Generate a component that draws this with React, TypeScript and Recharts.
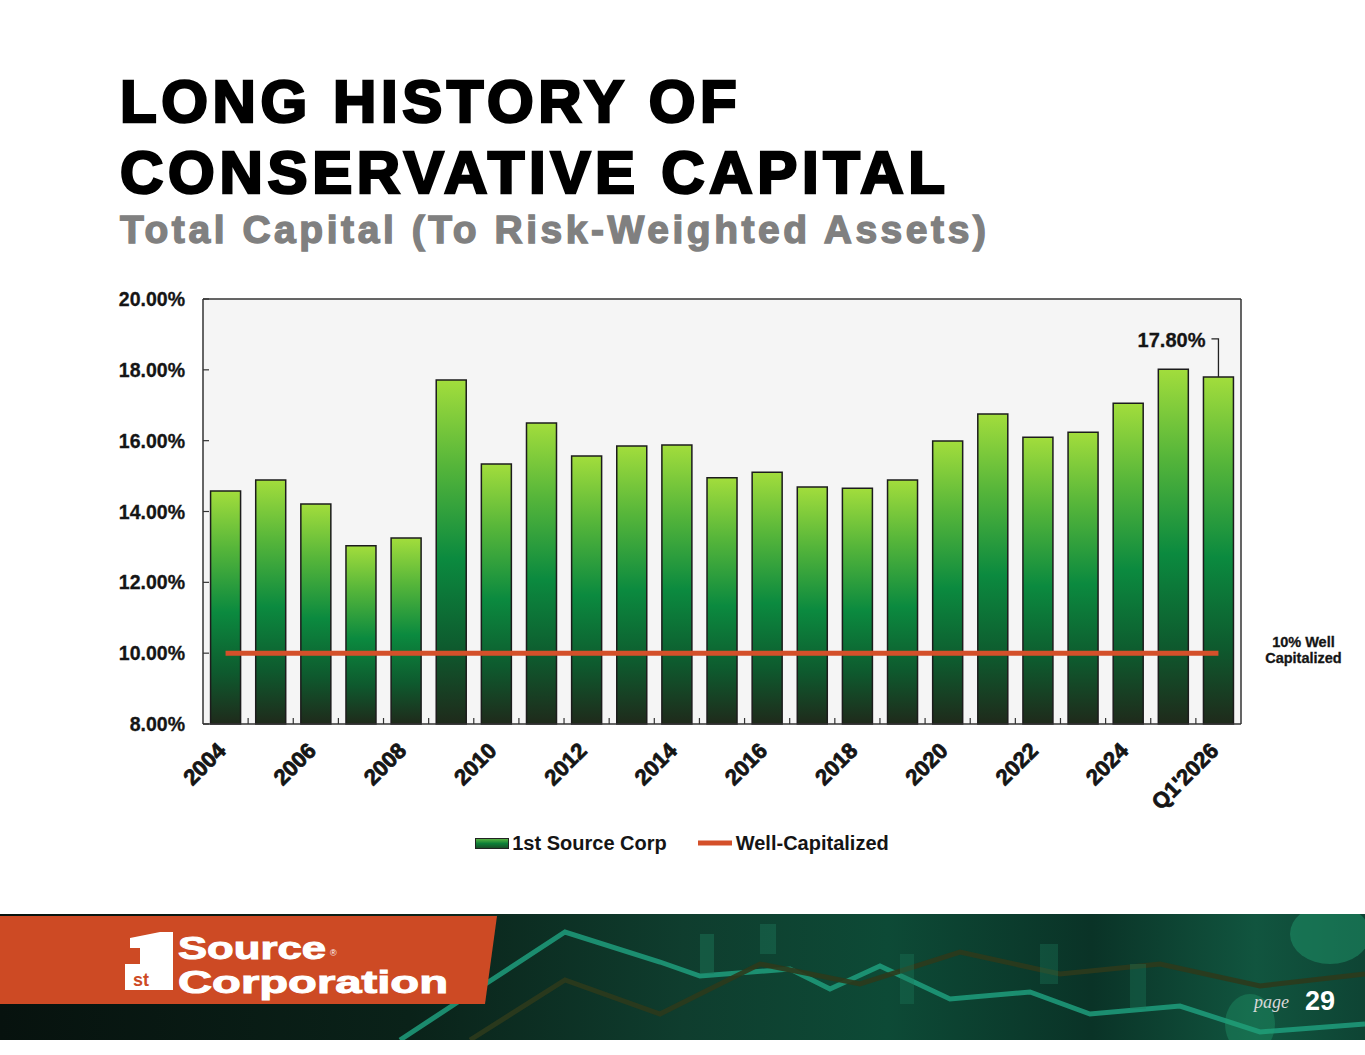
import React from 'react';
import {
  ComposedChart,
  Bar,
  Line,
  XAxis,
  YAxis,
  CartesianGrid,
  Legend,
  LabelList,
} from 'recharts';

const categories = [
  '2004', '2005', '2006', '2007', '2008', '2009', '2010', '2011', '2012', '2013', '2014',
  '2015', '2016', '2017', '2018', '2019', '2020', '2021', '2022', '2023', '2024', '2025', "Q1'2026",
];
const capitalRatios = [
  14.58, 14.89, 14.21, 13.03, 13.25, 17.71, 15.34, 16.5, 15.57, 15.85, 15.88,
  14.95, 15.11, 14.69, 14.66, 14.89, 15.99, 16.75, 16.1, 16.24, 17.06, 18.02, 17.8,
];
const wellCapitalized = [
  10, 10, 10, 10, 10, 10, 10, 10, 10, 10, 10,
  10, 10, 10, 10, 10, 10, 10, 10, 10, 10, 10, 10,
];
const yTicks = [8, 10, 12, 14, 16, 18, 20];
const yDomain: [number, number] = [8, 20];

const data = categories.map((c, i) => ({
  year: c,
  idx: i,
  corp: capitalRatios[i],
  well: wellCapitalized[i],
}));
const edgeDomain: [number, number] = [-0.5, categories.length - 0.5];
const edgeTicks = categories.slice(1).map((_, i) => i + 0.5);

const FONT = '"Liberation Sans", Arial, Helvetica, sans-serif';
const INK = '#151515';
const ORANGE = '#D4502A';

const Empty = () => <g />;

const XTick = (props: any) => {
  const { x, y, payload } = props;
  const ax = x + 1.5;
  return (
    <text
      x={ax}
      y={y}
      textAnchor="end"
      transform={`rotate(-45 ${ax} ${y})`}
      fontFamily={FONT}
      fontWeight={700}
      fontSize={22}
      fill={INK}
      stroke={INK}
      strokeWidth={0.8}
    >
      {payload.value}
    </text>
  );
};

const YTick = (props: any) => {
  const { x, y, payload } = props;
  return (
    <text
      x={x}
      y={y}
      dy={7}
      textAnchor="end"
      fontFamily={FONT}
      fontWeight={700}
      fontSize={19.5}
      fill={INK}
      stroke={INK}
      strokeWidth={0.3}
    >
      {payload.value.toFixed(2)}%
    </text>
  );
};

const BarNote = (props: any) => {
  const { x, y, width, value, index } = props;
  if (index !== capitalRatios.length - 1) return null;
  const cx = x + width / 2;
  return (
    <g>
      <polyline
        points={`${cx},${y} ${cx},${y - 38} ${cx - 7},${y - 38}`}
        fill="none"
        stroke="#222"
        strokeWidth={1.3}
      />
      <text
        x={cx - 13}
        y={y - 30}
        textAnchor="end"
        fontFamily={FONT}
        fontWeight={700}
        fontSize={20}
        fill={INK}
        stroke={INK}
        strokeWidth={0.3}
      >
        {Number(value).toFixed(2)}%
      </text>
    </g>
  );
};

const LineNote = (props: any) => {
  const { x, y, index } = props;
  if (index !== wellCapitalized.length - 1) return null;
  return (
    <text
      fontFamily={FONT}
      fontWeight={700}
      fontSize={14.5}
      fill={INK}
      stroke={INK}
      strokeWidth={0.3}
      textAnchor="middle"
    >
      <tspan x={x + 85} y={y - 6}>10% Well</tspan>
      <tspan x={x + 85} y={y + 10}>Capitalized</tspan>
    </text>
  );
};

const LegendContent = () => (
  <div
    style={{
      display: 'flex',
      justifyContent: 'center',
      alignItems: 'center',
      height: 24,
      fontFamily: FONT,
      fontWeight: 700,
      fontSize: 20,
      color: INK,
    }}
  >
    <svg width={34} height={11} style={{ display: 'block' }}>
      <defs>
        <linearGradient id="legendGrad" x1="0" y1="0" x2="0" y2="1">
          <stop offset="0%" stopColor="#5fb843" />
          <stop offset="50%" stopColor="#0d7f38" />
          <stop offset="100%" stopColor="#1b4a25" />
        </linearGradient>
      </defs>
      <rect x={0.5} y={0.5} width={33} height={10} fill="url(#legendGrad)" stroke="#222" strokeWidth={1} />
    </svg>
    <span style={{ marginLeft: 3 }}>1st Source Corp</span>
    <svg width={36} height={8} style={{ display: 'block', marginLeft: 30 }}>
      <line x1={1} y1={4} x2={35} y2={4} stroke={ORANGE} strokeWidth={5} />
    </svg>
    <span style={{ marginLeft: 3 }}>Well-Capitalized</span>
  </div>
);

const Footer = () => (
  <div
    style={{
      position: 'absolute',
      left: 0,
      top: 914,
      width: 1365,
      height: 126,
      overflow: 'hidden',
      background:
        'linear-gradient(90deg, #07120e 0%, #0a2219 30%, #0f3d2e 50%, #0d4a36 65%, #0a3327 80%, #11553f 92%, #0e4434 100%)',
    }}
  >
    <svg width={1365} height={126} style={{ position: 'absolute', left: 0, top: 0 }}>
      <polyline
        points="400,126 470,80 565,18 660,48 700,62 790,55 830,75 880,52 950,85 1030,78 1090,100 1180,92 1260,118 1365,110"
        fill="none"
        stroke="#1f9e7c"
        strokeWidth={5}
        opacity={0.85}
      />
      <polyline
        points="470,126 565,66 660,100 760,50 860,70 960,38 1060,60 1160,50 1260,72 1365,60"
        fill="none"
        stroke="#2c3a1c"
        strokeWidth={5}
        opacity={0.9}
      />
      <rect x={700} y={20} width={14} height={40} fill="#1d7a5c" opacity={0.45} />
      <rect x={760} y={10} width={16} height={30} fill="#1d7a5c" opacity={0.4} />
      <rect x={900} y={40} width={14} height={50} fill="#1d7a5c" opacity={0.35} />
      <rect x={1040} y={30} width={18} height={40} fill="#1d7a5c" opacity={0.35} />
      <rect x={1130} y={50} width={16} height={45} fill="#1d7a5c" opacity={0.35} />
      <ellipse cx={1330} cy={20} rx={40} ry={30} fill="#22a070" opacity={0.45} />
      <ellipse cx={1250} cy={110} rx={25} ry={30} fill="#22a070" opacity={0.35} />
    </svg>
    <svg width={500} height={92} style={{ position: 'absolute', left: 0, top: 2 }}>
      <polygon points="0,0 497,0 485,88 0,88" fill="#CD4A24" />
      <polygon points="130,22 160,16 173,16 173,74 125,74 125,48 140,48 140,32 130,32" fill="#ffffff" />
      <text x={133} y={70} fontFamily={FONT} fontWeight={700} fontSize={18} fill="#CD4A24">
        st
      </text>
      <text
        x={178}
        y={43}
        fontFamily={FONT}
        fontWeight={700}
        fontSize={31}
        textLength={148}
        lengthAdjust="spacingAndGlyphs"
        fill="#ffffff"
        stroke="#ffffff"
        strokeWidth={1}
      >
        Source
      </text>
      <text x={330} y={40} fontFamily={FONT} fontSize={9} fill="#ffffff">
        ®
      </text>
      <text
        x={178}
        y={77}
        fontFamily={FONT}
        fontWeight={700}
        fontSize={31}
        textLength={270}
        lengthAdjust="spacingAndGlyphs"
        fill="#ffffff"
        stroke="#ffffff"
        strokeWidth={1}
      >
        Corporation
      </text>
    </svg>
    <div
      style={{
        position: 'absolute',
        left: 1254,
        top: 78,
        fontFamily: '"Liberation Serif", serif',
        fontStyle: 'italic',
        fontSize: 18,
        color: '#d8d8d8',
      }}
    >
      page
    </div>
    <div
      style={{
        position: 'absolute',
        left: 1305,
        top: 72,
        fontFamily: FONT,
        fontWeight: 700,
        fontSize: 27,
        color: '#ffffff',
      }}
    >
      29
    </div>
  </div>
);

export default function App() {
  return (
    <div
      style={{
        position: 'absolute',
        left: 0,
        top: 0,
        width: 1365,
        height: 1055,
        background: '#ffffff',
        overflow: 'hidden',
      }}
    >
      <svg width={1365} height={270} style={{ position: 'absolute', left: 0, top: 0 }}>
        <text
          x={120}
          y={122}
          fontFamily={FONT}
          fontWeight={700}
          fontSize={60}
          letterSpacing={4.6}
          fill="#000"
          stroke="#000"
          strokeWidth={2.6}
        >
          LONG HISTORY OF
        </text>
        <text
          x={120}
          y={193}
          fontFamily={FONT}
          fontWeight={700}
          fontSize={60}
          letterSpacing={4.7}
          fill="#000"
          stroke="#000"
          strokeWidth={2.6}
        >
          CONSERVATIVE CAPITAL
        </text>
        <text
          x={120}
          y={243}
          fontFamily={FONT}
          fontWeight={700}
          fontSize={39}
          letterSpacing={3.55}
          fill="#808080"
          stroke="#808080"
          strokeWidth={1.4}
        >
          Total Capital (To Risk-Weighted Assets)
        </text>
      </svg>

      <div style={{ position: 'absolute', left: 0, top: 280 }}>
        <ComposedChart
          width={1365}
          height={600}
          data={data}
          margin={{ top: 19, right: 124, bottom: 25, left: 123 }}
          barCategoryGap="16.8%"
        >
          <defs>
            <linearGradient id="barGrad" x1="0" y1="0" x2="0" y2="1">
              <stop offset="0%" stopColor="#a2dd3c" />
              <stop offset="25%" stopColor="#55b53a" />
              <stop offset="52%" stopColor="#0b8a3f" />
              <stop offset="78%" stopColor="#0e5a2e" />
              <stop offset="100%" stopColor="#1f2a1b" />
            </linearGradient>
          </defs>
          <CartesianGrid fill="#f5f5f5" horizontal={false} vertical={false} />
          <XAxis
            dataKey="year"
            interval={1}
            tickLine={false}
            tickSize={6}
            tickMargin={22}
            height={107}
            axisLine={{ stroke: '#333', strokeWidth: 1.5 }}
            tick={<XTick />}
          />
          <XAxis
            xAxisId="edge"
            type="number"
            dataKey="idx"
            domain={edgeDomain}
            ticks={edgeTicks}
            allowDataOverflow
            mirror
            tick={<Empty />}
            tickSize={6}
            axisLine={false}
            tickLine={{ stroke: '#333', strokeWidth: 1.2 }}
          />
          <XAxis
            xAxisId="topB"
            orientation="top"
            type="number"
            dataKey="idx"
            domain={edgeDomain}
            allowDataOverflow
            mirror
            tick={<Empty />}
            tickLine={false}
            axisLine={{ stroke: '#333', strokeWidth: 1.5 }}
          />
          <YAxis
            domain={yDomain}
            ticks={yTicks}
            width={80}
            tickLine={false}
            tickSize={6}
            tickMargin={12}
            axisLine={{ stroke: '#333', strokeWidth: 1.5 }}
            tick={<YTick />}
          />
          <YAxis
            yAxisId="edgeY"
            domain={yDomain}
            ticks={yTicks}
            allowDataOverflow
            mirror
            tick={<Empty />}
            tickSize={6}
            axisLine={false}
            tickLine={{ stroke: '#333', strokeWidth: 1.2 }}
          />
          <YAxis
            yAxisId="rightB"
            orientation="right"
            domain={yDomain}
            allowDataOverflow
            mirror
            tick={<Empty />}
            tickLine={false}
            axisLine={{ stroke: '#333', strokeWidth: 1.5 }}
          />
          <Legend verticalAlign="bottom" align="center" height={24} content={<LegendContent />} />
          <Bar
            dataKey="corp"
            name="1st Source Corp"
            fill="url(#barGrad)"
            stroke="#1c1c1c"
            strokeWidth={1.5}
            isAnimationActive={false}
          >
            <LabelList dataKey="corp" content={<BarNote />} />
          </Bar>
          <Line
            dataKey="well"
            name="Well-Capitalized"
            stroke={ORANGE}
            strokeWidth={5}
            dot={false}
            activeDot={false}
            isAnimationActive={false}
          >
            <LabelList dataKey="well" content={<LineNote />} />
          </Line>
        </ComposedChart>
      </div>

      <Footer />
    </div>
  );
}
